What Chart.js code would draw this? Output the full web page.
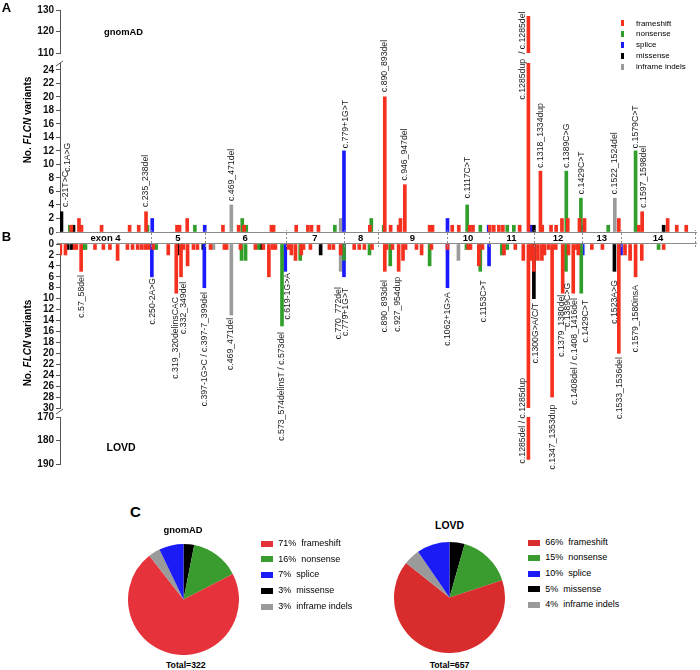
<!DOCTYPE html>
<html><head><meta charset="utf-8">
<script src="https://cdn.jsdelivr.net/npm/chart.js@4.4.1/dist/chart.umd.min.js"></script>
<style>
body{margin:0;background:#fff;width:700px;height:670px;position:relative;overflow:hidden;font-family:"Liberation Sans",Arial,sans-serif;}
canvas{position:absolute;}
.t{position:absolute;white-space:pre;color:#000;}
</style></head><body>
<canvas id="au" style="left:0px;top:0px" width="700" height="70"></canvas>
<canvas id="al" style="left:0px;top:0px" width="700" height="250"></canvas>
<canvas id="bu" style="left:0px;top:230px" width="700" height="250"></canvas>
<canvas id="bl" style="left:0px;top:400px" width="700" height="80"></canvas>
<canvas id="pg" style="left:128px;top:544px" width="111" height="111"></canvas>
<canvas id="pl" style="left:394px;top:542px" width="111" height="111"></canvas>
<script>
// ---------------- DATA ----------------
const TYPES = ['frameshift','nonsense','splice','missense','inframe indels'];
const GENE_LEN = 1742;               // cDNA track length shown
const exonNames = ['exon 4','5','6','7','8','9','10','11','12','13','14'];
const exonEnds = [250,397,619,779,871,1062,1177,1300,1433,1539,1742];

// gnomAD: [cDNA position, number of variants]
const gnomadFrameshift = [[31,1],[52,2],[59,1],[114,1],[191,1],[216,1],[236,3],[321,1],[328,1],[349,2],[447,1],[490,1],[505,1],[580,1],[586,1],[648,1],[680,1],[690,1],[709,1],[850,1],[891,20],[907,1],[929,1],[934,2],[946,7],[1014,1],[1022,1],[1076,1],[1094,1],[1124,1],[1133,1],[1179,1],[1190,1],[1204,1],[1215,1],[1261,1],[1285,127],[1318,9],[1323,1],[1347,1],[1361,1],[1377,2],[1393,2],[1425,2],[1439,2],[1533,2],[1588,1],[1597,3],[1667,2],[1692,1],[1718,1]];
const gnomadNonsense = [[27,1],[240,1],[370,1],[500,2],[511,1],[754,1],[854,2],[888,1],[1117,4],[1153,1],[1227,1],[1245,1],[1389,9],[1429,5],[1504,1],[1579,12]];
const gnomadSplice = [[253,2],[397,1],[779,12],[1063,2],[1176,1],[1290,1],[1434,1]];
const gnomadMissense = [[4,3],[37,1],[1300,1],[1656,1]];
const gnomadInframe = [[470,4],[770,2],[1522,5]];

// LOVD
const lovdFrameshift = [[1,2],[15,2],[40,1],[45,1],[58,5],[96,1],[119,1],[137,1],[158,3],[185,1],[199,1],[213,1],[224,1],[234,1],[243,1],[256,1],[297,2],[319,9],[332,6],[339,1],[350,4],[366,1],[377,1],[413,1],[451,1],[457,1],[495,1],[536,1],[558,1],[573,6],[583,1],[591,1],[627,1],[635,2],[646,3],[662,2],[668,1],[687,1],[739,1],[750,1],[770,2],[807,1],[821,1],[835,1],[856,1],[891,5],[896,1],[912,1],[929,5],[941,3],[948,1],[978,1],[992,2],[1019,1],[1063,1],[1120,1],[1126,1],[1149,4],[1159,1],[1218,2],[1249,1],[1271,3],[1285,188],[1291,3],[1300,5],[1311,3],[1322,3],[1329,2],[1340,1],[1350,28],[1360,1],[1379,9],[1395,2],[1408,9],[1418,1],[1422,2],[1459,1],[1488,1],[1533,20],[1550,2],[1564,3],[1579,6],[1596,3],[1656,1]];
const lovdNonsense = [[64,1],[70,1],[264,1],[498,3],[509,3],[545,1],[609,15],[659,3],[779,3],[849,2],[906,4],[1014,4],[1115,1],[1153,5],[1212,2],[1227,1],[1388,5],[1430,9],[1642,1]];
const lovdSplice = [[252,6],[396,8],[618,5],[779,6],[1063,8],[1177,4],[1434,2],[1539,2]];
const lovdMissense = [[20,1],[31,1],[323,2],[393,1],[552,1],[715,2],[1300,10],[1521,5]];
const lovdInframe = [[421,1],[470,13],[770,5],[1093,3]];

// variant annotations: text, position on track, value where the text starts
const gnomadLabels = [
 {text:'c.-21T>C',pos:15,at:3.7},{text:'c.1A>G',pos:20,at:8.9},{text:'c.235_238del',pos:234,at:3.7},
 {text:'c.469_471del',pos:470,at:4.6},{text:'c.779+1G>T',pos:783,at:12.4},{text:'c.890_893del',pos:890,at:20.7},
 {text:'c.946_947del',pos:945,at:7.6},{text:'c.1117C>T',pos:1117,at:5.0},{text:'c.1285dup  / c.1285del',pos:1268,at:19.6},
 {text:'c.1318_1334dup',pos:1318,at:9.5},{text:'c.1389C>G',pos:1389,at:9.5},{text:'c.1429C>T',pos:1430,at:5.6},
 {text:'c.1522_1524del',pos:1522,at:5.6},{text:'c.1579C>T',pos:1579,at:12.4},{text:'c.1597_1598del',pos:1600,at:3.6}
];
const lovdLabels = [
 {text:'c.57_58del',pos:59,at:5.7},{text:'c.250-2A>G',pos:253,at:6.2},{text:'c.319_320delinsCAC',pos:318,at:9.7},
 {text:'c.332_349del',pos:339,at:6.9},{text:'c.397-1G>C / c.397-7_399del',pos:397,at:8.8},{text:'c.469_471del',pos:467,at:13.5},
 {text:'c.573_574delinsT / c.573del',pos:609,at:16.1},{text:'c.619-1G>A',pos:625,at:5.3},{text:'c.770_772del',pos:765,at:7.9},
 {text:'c.779+1G>T',pos:783,at:8.0},{text:'c.890_893del',pos:891,at:6.6},{text:'c.927_954dup',pos:925,at:6.0},
 {text:'c.1062+1G>A',pos:1062,at:8.8},{text:'c.1153C>T',pos:1162,at:6.6},{text:'c.1285del / c.1285dup',pos:1268,at:24.5},
 {text:'c.1300G>A/C/T',pos:1304,at:10.8},{text:'c.1347_1353dup',pos:1350,at:29.4},{text:'c.1379_1380del',pos:1377,at:9.3},
 {text:'c.1389C>G',pos:1393,at:7.1},{text:'c.1408del / c.1408_1416del',pos:1413,at:9.9},{text:'c.1429C>T',pos:1441,at:10.2},
 {text:'c.1523A>G',pos:1522,at:6.6},{text:'c.1533_1536del',pos:1535,at:20.7},{text:'c.1579_1580insA',pos:1579,at:7.5}
];

const ticksTopUpper = [110,120,130];
const ticksTopLower = [0,2,4,6,8,10,12,14,16,18,20,22,24];
const ticksBotUpper = [0,2,4,6,8,10,12,14,16,18,20,22,24,26,28,30];
const ticksBotLower = [170,180,190];

// pie (counts per type, in TYPES order)
const gnomadCounts = [232,46,23,10,11];
const lovdCounts = [432,102,63,29,31];
const gnomadPct = ['71%','16%','7%','3%','3%'];
const lovdPct = ['66%','15%','10%','5%','4%'];
const gnomadTotal = 322, lovdTotal = 657;

// ---------------- STYLE ----------------
const FONT = '"Liberation Sans", Arial, sans-serif';
Chart.defaults.font.family = FONT;
const BAR_COLORS = ['#f5301e','#2f9e2a','#1a1aff','#000000','#9b9b9b'];
const PIE_COLORS_G = ['#e5323b','#3a9b2e','#1b1bf5','#000000','#9a9a9a'];
const PIE_COLORS_L = ['#d92d2d','#3a9b2e','#1b1bf5','#000000','#9a9a9a'];
const PIE_ORDER = [3,1,0,4,2]; // clockwise from 12 o'clock

function datasets(series){
  return series.map((arr,i)=>({label:TYPES[i],data:arr.map(([p,v])=>({x:p,y:v})),
    backgroundColor:BAR_COLORS[i],barThickness:3,grouped:false,clip:0,borderWidth:0}));
}

function labelPlugin(labels, up){
  return {id:'varLabels',afterDatasetsDraw(chart){
    const {ctx,scales:{x,y}} = chart;
    ctx.save();
    ctx.font = '8.7px '+FONT; ctx.fillStyle = '#1a1a1a';
    labels.forEach(l=>{
      ctx.save();
      ctx.translate(x.getPixelForValue(l.pos), y.getPixelForValue(l.at));
      ctx.rotate(-Math.PI/2);
      ctx.textAlign = up ? 'left' : 'right';
      ctx.textBaseline = 'middle';
      ctx.fillText(l.text,0,0);
      ctx.restore();
    });
    ctx.restore();
  }};
}

function breakPlugin(where){
  return {id:'brk',afterDraw(chart){
    const {ctx,chartArea} = chart; const x0 = chartArea.left;
    const yb = where==='top' ? chartArea.top + 1 : chartArea.bottom + 4;
    ctx.save(); ctx.strokeStyle='#555'; ctx.lineWidth=1;
    ctx.beginPath(); ctx.moveTo(x0-4, yb+2); ctx.lineTo(x0+3, yb-3); ctx.stroke();
    ctx.restore();
  }};
}

const exonPlugin = {id:'exons',afterDraw(chart){
  const {ctx,chartArea:{top},scales:{x}} = chart;
  const bTop = top-12, bBot = top, left = x.left-3, right = x.right;
  ctx.save();
  ctx.fillStyle='#fff'; ctx.fillRect(left,bTop,right-left,12);
  ctx.strokeStyle='#8a8a8a'; ctx.lineWidth=1;
  ctx.beginPath(); ctx.moveTo(left,bTop+0.5); ctx.lineTo(right+2,bTop+0.5);
  ctx.moveTo(left,bBot-0.5); ctx.lineTo(right+2,bBot-0.5); ctx.stroke();
  ctx.setLineDash([2,2]);
  exonEnds.forEach(e=>{ const px = Math.round(x.getPixelForValue(e))+0.5;
    ctx.beginPath(); ctx.moveTo(px,bTop-3); ctx.lineTo(px,bBot+3); ctx.stroke(); });
  ctx.setLineDash([]);
  ctx.fillStyle='#000'; ctx.font='bold 9.5px '+FONT; ctx.textAlign='center'; ctx.textBaseline='middle';
  let prev = 0;
  exonEnds.forEach((e,i)=>{ ctx.fillText(exonNames[i], (x.getPixelForValue(prev)+x.getPixelForValue(e))/2, (bTop+bBot)/2+0.5); prev = e; });
  ctx.restore();
}};

function makeBar(id, series, yMin, yMax, tickVals, reverse, pad, plugins){
  return new Chart(document.getElementById(id),{
    type:'bar', data:{datasets:datasets(series)},
    options:{responsive:false,animation:false,devicePixelRatio:1,
      layout:{padding:{left:0,right:5,top:pad[0],bottom:pad[1]}},
      plugins:{legend:{display:false},tooltip:{enabled:false}},
      scales:{
        x:{type:'linear',min:0,max:GENE_LEN,offset:false,display:false},
        y:{type:'linear',min:yMin,max:yMax,reverse:reverse,
          afterBuildTicks:s=>{s.ticks = tickVals.map(v=>({value:v}));},
          afterFit:s=>{s.width=60;},
          ticks:{color:'#111',font:{size:10,weight:'bold'},padding:2,autoSkip:false},
          grid:{drawOnChartArea:false,drawTicks:true,tickLength:4,color:'#555'},
          border:{display:true,color:'#555',width:1}}
      }},
    plugins:plugins||[]
  });
}

const gSeries = [gnomadFrameshift,gnomadNonsense,gnomadSplice,gnomadMissense,gnomadInframe];
const lSeries = [lovdFrameshift,lovdNonsense,lovdSplice,lovdMissense,lovdInframe];

makeBar('au', gSeries, 110, 130, ticksTopUpper, false, [10,17]);
makeBar('al', gSeries, 0, 25, ticksTopLower, false, [63,18], [labelPlugin(gnomadLabels,true), breakPlugin('top')]);
makeBar('bu', lSeries, 0, 30, ticksBotUpper, true, [14,72], [exonPlugin, labelPlugin(lovdLabels,false), breakPlugin('bottom')]);
makeBar('bl', lSeries, 170, 190, ticksBotLower, true, [17,16]);

function makePie(id, counts, colors){
  new Chart(document.getElementById(id),{type:'pie',
    data:{labels:PIE_ORDER.map(i=>TYPES[i]),datasets:[{data:PIE_ORDER.map(i=>counts[i]),backgroundColor:PIE_ORDER.map(i=>colors[i]),borderWidth:0}]},
    options:{responsive:false,animation:false,devicePixelRatio:1,layout:{padding:0},
      plugins:{legend:{display:false},tooltip:{enabled:false}}}});
}
makePie('pg', gnomadCounts, PIE_COLORS_G);
makePie('pl', lovdCounts, PIE_COLORS_L);

// ---------------- TEXT ----------------
function addText(txt, x, base, size, weight, align){
  const d = document.createElement('div'); d.className='t';
  d.textContent = txt;
  d.style.font = weight+' '+size+'px '+FONT; d.style.lineHeight = size+'px';
  d.style.top = (base-0.8465*size)+'px'; d.style.left = x+'px';
  if(align==='center') d.style.transform='translateX(-50%)';
  document.body.appendChild(d); return d;
}
addText('A',1.7,11.7,13,'bold');
addText('B',1.7,240.7,13,'bold');
addText('C',130,516.7,15,'bold');
addText('gnomAD',104,34.8,9.4,'bold');
addText('LOVD',106.5,451,10.5,'bold');
addText('gnomAD',183,533,9.4,'bold','center');
addText('LOVD',449.5,530,10.4,'bold','center');
addText('Total='+gnomadTotal,185.8,668,8.7,'bold','center');
addText('Total='+lovdTotal,449.5,668,8.7,'bold','center');

function axisTitle(cx, cy){
  const d = document.createElement('div'); d.className='t';
  d.innerHTML = 'No. <i>FLCN</i> variants';
  d.style.font = 'bold 10px '+FONT; d.style.lineHeight='10px';
  d.style.left = cx+'px'; d.style.top = cy+'px';
  d.style.transform = 'translate(-50%,-50%) rotate(-90deg)';
  document.body.appendChild(d);
}
axisTitle(27.5,120); axisTitle(27.5,343);

// bar legend
const legBase = [26.3,37.2,48.1,59,69.9];
TYPES.forEach((t,i)=>{
  const m = document.createElement('div');
  m.style.cssText = 'position:absolute;left:621px;top:'+(legBase[i]-6)+'px;width:2.5px;height:6px;background:'+BAR_COLORS[i];
  document.body.appendChild(m);
  addText(t,636,legBase[i],8,'normal');
});
// pie legends
function pieLegend(x, base0, step, pct, colors){
  TYPES.forEach((t,i)=>{
    const b = base0+i*step;
    const m = document.createElement('div');
    m.style.cssText = 'position:absolute;left:'+x+'px;top:'+(b-6)+'px;width:12.5px;height:6px;background:'+colors[i];
    document.body.appendChild(m);
    addText(pct[i]+'  '+t, x+17.5, b, 9, 'normal');
  });
}
pieLegend(260.7,546.5,15.8,gnomadPct,PIE_COLORS_G);
pieLegend(527.7,545.5,15.6,lovdPct,PIE_COLORS_L);
</script>
</body></html>
